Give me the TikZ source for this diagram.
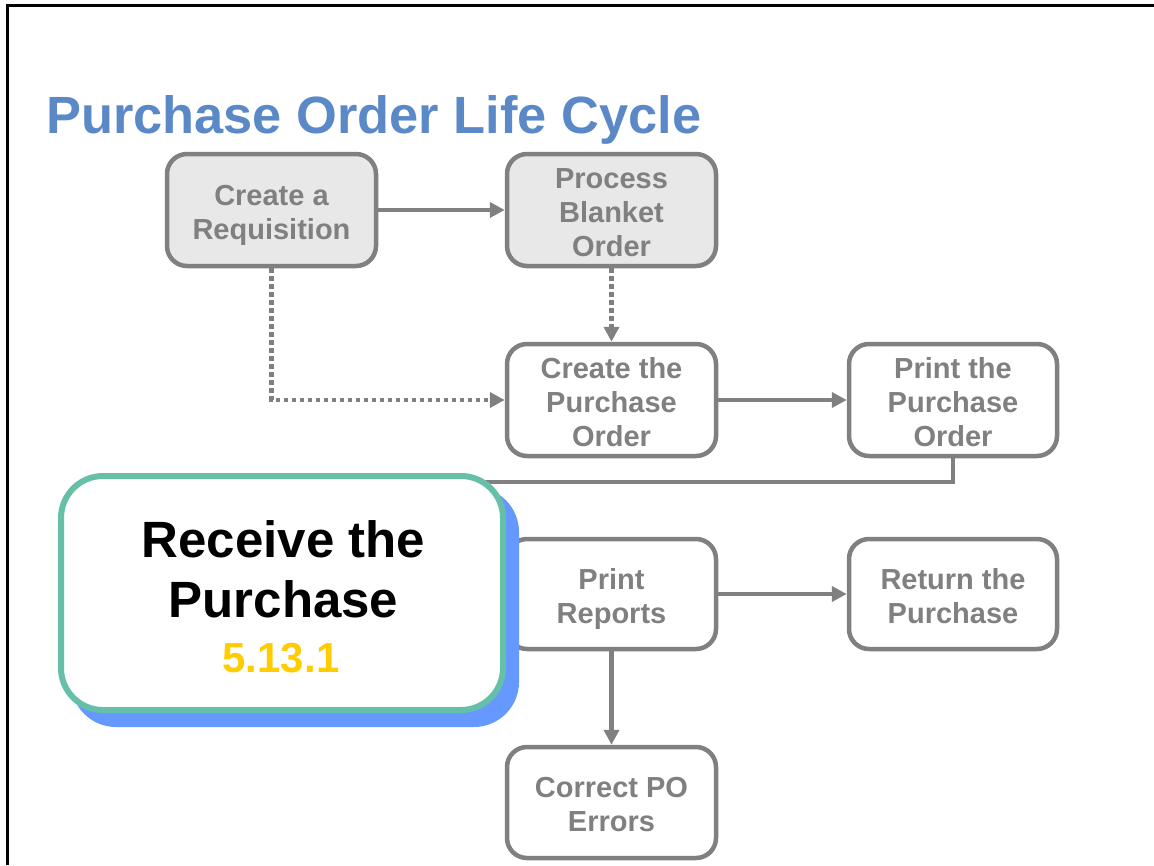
\documentclass[tikz,border=0pt]{standalone}
\usepackage{fontspec}
\setmainfont{Liberation Sans}
\usetikzlibrary{arrows.meta}
\definecolor{boxgray}{HTML}{808080}
\definecolor{fillgray}{HTML}{E8E8E8}
\definecolor{titleblue}{HTML}{5B88C6}
\definecolor{bordergreen}{HTML}{66BFA9}
\definecolor{shadowblue}{HTML}{6699FF}
\definecolor{numyellow}{HTML}{FFCC00}
\newcommand{\topstr}{\rule{0pt}{31pt}}
\newcommand{\botstr}{\rule[-7pt]{0pt}{7pt}}
\tikzset{
  stepbox/.style={draw=boxgray, line width=4.5pt, rounded corners=20pt, fill=white,
    minimum width=209pt, minimum height=112pt, align=center, text=boxgray,
    font=\fontsize{29}{34}\selectfont\bfseries, inner sep=0pt},
  greybox/.style={stepbox, fill=fillgray},
  conn/.style={draw=boxgray, line width=4.5pt, -{Triangle[length=15pt,width=15pt]}},
  dotconn/.style={conn, dash pattern=on 4.5pt off 3.5pt},
  plainconn/.style={draw=boxgray, line width=4.5pt},
  bigbox/.style={draw=bordergreen, line width=6pt, rounded corners=42pt, fill=white,
    minimum width=442pt, minimum height=234pt, inner sep=0pt},
  bigtext/.style={anchor=base, inner sep=0pt, font=\fontsize{51}{60}\selectfont\bfseries},
}
\begin{document}
\begin{tikzpicture}[x=1pt,y=-1pt]
\useasboundingbox (0,0) rectangle (1154,865);
% frame
\draw[line width=3pt, black] (7,865) -- (7,5) -- (1154,5);
% title
\node[anchor=base west, inner sep=0pt, text=titleblue, font=\fontsize{52.4}{60}\selectfont\bfseries] (title) at (46,133) {Purchase Order Life Cycle};
% boxes
\node[greybox] (req) at (271.5,210) {\topstr Create a\\Requisition\botstr};
\node[greybox] (blanket) at (611.5,210) {\topstr Process\\Blanket\\Order\botstr};
\node[stepbox] (createpo) at (611.5,400) {\topstr Create the\\Purchase\\Order\botstr};
\node[stepbox, minimum width=208pt] (printpo) at (953,400) {\topstr Print the\\Purchase\\Order\botstr};
\node[stepbox, minimum height=110pt] (reports) at (611.5,594) {\topstr Print\\Reports\botstr};
\node[stepbox, minimum width=208pt, minimum height=110pt] (return) at (953,594) {\topstr Return the\\Purchase\botstr};
\node[stepbox, minimum height=111pt] (correct) at (611.5,802.5) {\topstr Correct PO\\Errors\botstr};
% connectors
\draw[conn] (req.east) -- (blanket.west);
\draw[dotconn] (blanket.south) -- (createpo.north);
\draw[dotconn] (req.south) |- (createpo.west);
\draw[conn] (createpo.east) -- (printpo.west);
\coordinate (hidden) at (450,482);
\draw[plainconn] (printpo.south) |- (hidden);
\draw[conn] (reports.east) -- (return.west);
\draw[conn] (reports.south) -- (correct.north);
% big box with shadow
\node[bigbox, draw=shadowblue, fill=shadowblue] (shadow) at (295,607) {};
\node[bigbox] (receive) at (282,593) {};
\node[bigtext] (rline1) at (283.5,557) {Receive the};
\node[bigtext] (rline2) at (283.5,617) {Purchase};
\node[anchor=base, inner sep=0pt, text=numyellow, font=\fontsize{42}{50}\selectfont\bfseries] (num) at (281,672) {5.13.1};
\end{tikzpicture}
\end{document}
